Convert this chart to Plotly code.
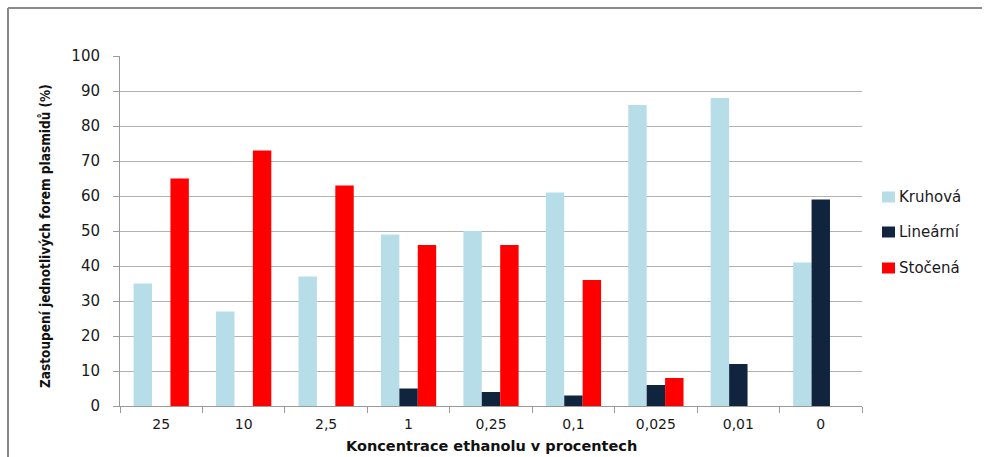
import plotly.graph_objects as go

# Ethanol concentration categories (%)
koncentrace = ["25", "10", "2,5", "1", "0,25", "0,1", "0,025", "0,01", "0"]

# Share of individual plasmid forms (%)
kruhova = [35, 27, 37, 49, 50, 61, 86, 88, 41]
linearni = [0, 0, 0, 5, 4, 3, 6, 12, 59]
stocena = [65, 73, 63, 46, 46, 36, 8, 0, 0]

y_ticks = list(range(0, 101, 10))

series = [
    ("Kruhová", kruhova, "#b7dde8"),
    ("Lineární", linearni, "#10243e"),
    ("Stočená", stocena, "#ff0000"),
]

W, H = 984, 457
L, R, T, B = 120, 122, 56, 51
pw, ph = W - L - R, H - T - B


def px_x(x):
    return (x - L) / pw


def px_y(y):
    return 1 - (y - T) / ph


fig = go.Figure()
for name, vals, color in series:
    fig.add_trace(go.Bar(
        x=koncentrace, y=vals, name=name,
        marker=dict(color=color, line=dict(width=0)),
        showlegend=False,
    ))

grid_color = "#b3b3b3"
axis_color = "#9a9a9a"
text_color = "#1a1a1a"

annotations = [
    dict(
        text="<b>Zastoupení jednotlivých forem plasmidů (%)</b>",
        xref="paper", yref="paper", x=px_x(45), y=px_y(236),
        xanchor="center", yanchor="middle", textangle=-90, showarrow=False,
        font=dict(family="DejaVu Sans Condensed", size=13.5, color="#111111"),
    ),
    dict(
        text="<b>Koncentrace ethanolu v procentech</b>",
        xref="paper", yref="paper", x=0.5, y=px_y(446),
        xanchor="center", yanchor="middle", showarrow=False,
        font=dict(family="DejaVu Sans", size=14.5, color="#111111"),
    ),
]

# Legend drawn as swatches with labels on the right side
shapes = []
legend_rows = [197, 232, 268]
for (name, _, color), yc in zip(series, legend_rows):
    shapes.append(dict(
        type="rect", xref="paper", yref="paper",
        x0=px_x(882), x1=px_x(895), y0=px_y(yc - 5.5), y1=px_y(yc + 5.5),
        fillcolor=color, line=dict(width=0),
    ))
    annotations.append(dict(
        text=name, xref="paper", yref="paper",
        x=px_x(897), y=px_y(yc), xanchor="left", yanchor="middle",
        showarrow=False,
        font=dict(family="DejaVu Sans", size=15, color=text_color),
    ))

# Chart frame (top and left edges)
shapes += [
    dict(type="line", xref="paper", yref="paper",
         x0=px_x(8), x1=px_x(982), y0=px_y(8), y1=px_y(8),
         line=dict(color="#8a8a8a", width=2)),
    dict(type="line", xref="paper", yref="paper",
         x0=px_x(8), x1=px_x(8), y0=px_y(8), y1=px_y(460),
         line=dict(color="#8a8a8a", width=2)),
]

fig.update_layout(
    width=W, height=H,
    margin=dict(l=L, r=R, t=T, b=B, autoexpand=False),
    paper_bgcolor="white", plot_bgcolor="white",
    barmode="group", bargap=0.33, bargroupgap=0,
    font=dict(family="DejaVu Sans", size=15, color=text_color),
    showlegend=False,
    xaxis=dict(
        type="category", categoryorder="array", categoryarray=koncentrace,
        showline=True, linecolor=axis_color, linewidth=1,
        ticks="outside", tickson="boundaries", ticklen=6, tickcolor=axis_color,
        showgrid=False, ticklabelstandoff=5,
        tickfont=dict(family="DejaVu Sans", size=14, color=text_color),
    ),
    yaxis=dict(
        range=[0, 100], tickvals=y_ticks,
        showline=True, linecolor=axis_color, linewidth=1,
        ticks="outside", ticklen=6, tickcolor=axis_color,
        showgrid=True, gridcolor=grid_color, gridwidth=1,
        zeroline=False, ticklabelstandoff=10,
        tickfont=dict(family="DejaVu Sans", size=15, color=text_color),
    ),
    annotations=annotations,
    shapes=shapes,
)

fig.write_html("out.html")
